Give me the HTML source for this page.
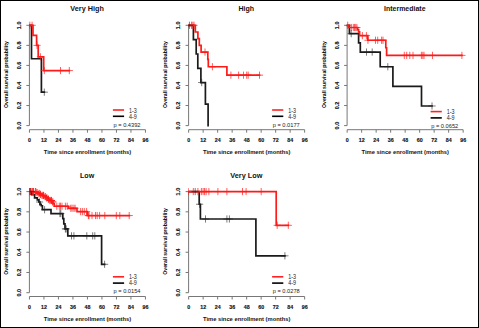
<!DOCTYPE html><html><head><meta charset="utf-8"><style>html,body{margin:0;padding:0;background:#fff;}svg{display:block;}</style></head><body>
<svg width="479" height="328" viewBox="0 0 479 328">
<rect x="0" y="0" width="479" height="328" fill="#fff"/>
<g transform="translate(0,0)">
<text x="87.1" y="10.8" font-family="Liberation Sans, sans-serif" font-weight="bold" font-size="7.1" text-anchor="middle" fill="#111" textLength="33.5" lengthAdjust="spacingAndGlyphs">Very High</text>
<path d="M29.4,25.3 V125.6" stroke="#777" stroke-width="1" fill="none"/>
<path d="M29.4,25.30 h-3 M29.4,45.36 h-3 M29.4,65.42 h-3 M29.4,85.48 h-3 M29.4,105.54 h-3 M29.4,125.60 h-3" stroke="#777" stroke-width="1" fill="none"/>
<text transform="translate(21.2,25.30) rotate(-90)" x="0" y="0" font-family="Liberation Sans, sans-serif" font-weight="bold" font-size="5.5" text-anchor="middle" fill="#111" stroke="#111" stroke-width="0.12">1.0</text>
<text transform="translate(21.2,45.36) rotate(-90)" x="0" y="0" font-family="Liberation Sans, sans-serif" font-weight="bold" font-size="5.5" text-anchor="middle" fill="#111" stroke="#111" stroke-width="0.12">0.8</text>
<text transform="translate(21.2,65.42) rotate(-90)" x="0" y="0" font-family="Liberation Sans, sans-serif" font-weight="bold" font-size="5.5" text-anchor="middle" fill="#111" stroke="#111" stroke-width="0.12">0.6</text>
<text transform="translate(21.2,85.48) rotate(-90)" x="0" y="0" font-family="Liberation Sans, sans-serif" font-weight="bold" font-size="5.5" text-anchor="middle" fill="#111" stroke="#111" stroke-width="0.12">0.4</text>
<text transform="translate(21.2,105.54) rotate(-90)" x="0" y="0" font-family="Liberation Sans, sans-serif" font-weight="bold" font-size="5.5" text-anchor="middle" fill="#111" stroke="#111" stroke-width="0.12">0.2</text>
<text transform="translate(21.2,125.60) rotate(-90)" x="0" y="0" font-family="Liberation Sans, sans-serif" font-weight="bold" font-size="5.5" text-anchor="middle" fill="#111" stroke="#111" stroke-width="0.12">0.0</text>
<text transform="translate(7.9,74.6) rotate(-90)" x="0" y="0" font-family="Liberation Sans, sans-serif" font-weight="bold" font-size="6.0" text-anchor="middle" fill="#000" textLength="66.8" lengthAdjust="spacingAndGlyphs">Overall survival probability</text>
<path d="M29.45,129.7 H145.45" stroke="#777" stroke-width="1" fill="none"/>
<path d="M29.45,129.7 v3 M43.95,129.7 v3 M58.45,129.7 v3 M72.95,129.7 v3 M87.45,129.7 v3 M101.95,129.7 v3 M116.45,129.7 v3 M130.95,129.7 v3 M145.45,129.7 v3" stroke="#777" stroke-width="1" fill="none"/>
<text x="29.45" y="141.8" font-family="Liberation Sans, sans-serif" font-weight="bold" font-size="6.0" text-anchor="middle" fill="#111" stroke="#111" stroke-width="0.15" textLength="2.95" lengthAdjust="spacingAndGlyphs">0</text>
<text x="43.95" y="141.8" font-family="Liberation Sans, sans-serif" font-weight="bold" font-size="6.0" text-anchor="middle" fill="#111" stroke="#111" stroke-width="0.15" textLength="5.90" lengthAdjust="spacingAndGlyphs">12</text>
<text x="58.45" y="141.8" font-family="Liberation Sans, sans-serif" font-weight="bold" font-size="6.0" text-anchor="middle" fill="#111" stroke="#111" stroke-width="0.15" textLength="5.90" lengthAdjust="spacingAndGlyphs">24</text>
<text x="72.95" y="141.8" font-family="Liberation Sans, sans-serif" font-weight="bold" font-size="6.0" text-anchor="middle" fill="#111" stroke="#111" stroke-width="0.15" textLength="5.90" lengthAdjust="spacingAndGlyphs">36</text>
<text x="87.45" y="141.8" font-family="Liberation Sans, sans-serif" font-weight="bold" font-size="6.0" text-anchor="middle" fill="#111" stroke="#111" stroke-width="0.15" textLength="5.90" lengthAdjust="spacingAndGlyphs">48</text>
<text x="101.95" y="141.8" font-family="Liberation Sans, sans-serif" font-weight="bold" font-size="6.0" text-anchor="middle" fill="#111" stroke="#111" stroke-width="0.15" textLength="5.90" lengthAdjust="spacingAndGlyphs">60</text>
<text x="116.45" y="141.8" font-family="Liberation Sans, sans-serif" font-weight="bold" font-size="6.0" text-anchor="middle" fill="#111" stroke="#111" stroke-width="0.15" textLength="5.90" lengthAdjust="spacingAndGlyphs">72</text>
<text x="130.95" y="141.8" font-family="Liberation Sans, sans-serif" font-weight="bold" font-size="6.0" text-anchor="middle" fill="#111" stroke="#111" stroke-width="0.15" textLength="5.90" lengthAdjust="spacingAndGlyphs">84</text>
<text x="145.45" y="141.8" font-family="Liberation Sans, sans-serif" font-weight="bold" font-size="6.0" text-anchor="middle" fill="#111" stroke="#111" stroke-width="0.15" textLength="5.90" lengthAdjust="spacingAndGlyphs">96</text>
<text x="87.5" y="153.8" font-family="Liberation Sans, sans-serif" font-weight="bold" font-size="5.6" text-anchor="middle" fill="#111" textLength="87.4" lengthAdjust="spacingAndGlyphs">Time since enrollment (months)</text>
<path d="M112.9,110 H124.1" stroke="#f22" stroke-width="1.6"/>
<path d="M112.9,116.3 H124.1" stroke="#000" stroke-width="1.6"/>
<text x="129" y="112.5" font-family="Liberation Sans, sans-serif" font-size="6.5" fill="#222" textLength="7.8" lengthAdjust="spacingAndGlyphs">1-3</text>
<text x="129" y="118.7" font-family="Liberation Sans, sans-serif" font-size="6.5" fill="#222" textLength="7.8" lengthAdjust="spacingAndGlyphs">4-9</text>
<text x="113.5" y="126.5" font-family="Liberation Sans, sans-serif" font-size="6.0" fill="#222" textLength="27" lengthAdjust="spacingAndGlyphs">p = 0.4392</text>
</g>
<clipPath id="cp0"><rect x="29.0" y="0" width="200" height="400"/></clipPath><g clip-path="url(#cp0)">
<path d="M29.40,25.30 H31.50 V58.73 H41.40 V92.17 H44.30" stroke="#1a1a1a" stroke-width="1.7" fill="none" stroke-linejoin="miter" stroke-linecap="square"/>
<path d="M29.40,25.30 H33.00 V35.33 H36.60 V45.36 H38.20 V56.82 H43.70 V70.58 H69.30" stroke="#ff1a1a" stroke-width="1.7" fill="none" stroke-linejoin="miter" stroke-linecap="square"/>
<path d="M26.20,25.30h7.20M29.80,21.70v7.20 M28.50,25.30h7.20M32.10,21.70v7.20 M33.40,45.36h7.20M37.00,41.76v7.20 M36.80,56.82h7.20M40.40,53.22v7.20 M40.70,70.58h7.20M44.30,66.98v7.20 M56.90,70.58h7.20M60.50,66.98v7.20 M65.70,70.58h7.20M69.30,66.98v7.20" stroke="#ff1a1a" stroke-width="0.7" fill="none"/>
<path d="M40.70,92.17h7.20M44.30,88.57v7.20" stroke="#222" stroke-width="0.6" fill="none"/>
</g>
<g transform="translate(159.2,0)">
<text x="87.1" y="10.8" font-family="Liberation Sans, sans-serif" font-weight="bold" font-size="7.1" text-anchor="middle" fill="#111" textLength="15.7" lengthAdjust="spacingAndGlyphs">High</text>
<path d="M29.4,25.3 V125.6" stroke="#777" stroke-width="1" fill="none"/>
<path d="M29.4,25.30 h-3 M29.4,45.36 h-3 M29.4,65.42 h-3 M29.4,85.48 h-3 M29.4,105.54 h-3 M29.4,125.60 h-3" stroke="#777" stroke-width="1" fill="none"/>
<text transform="translate(21.2,25.30) rotate(-90)" x="0" y="0" font-family="Liberation Sans, sans-serif" font-weight="bold" font-size="5.5" text-anchor="middle" fill="#111" stroke="#111" stroke-width="0.12">1.0</text>
<text transform="translate(21.2,45.36) rotate(-90)" x="0" y="0" font-family="Liberation Sans, sans-serif" font-weight="bold" font-size="5.5" text-anchor="middle" fill="#111" stroke="#111" stroke-width="0.12">0.8</text>
<text transform="translate(21.2,65.42) rotate(-90)" x="0" y="0" font-family="Liberation Sans, sans-serif" font-weight="bold" font-size="5.5" text-anchor="middle" fill="#111" stroke="#111" stroke-width="0.12">0.6</text>
<text transform="translate(21.2,85.48) rotate(-90)" x="0" y="0" font-family="Liberation Sans, sans-serif" font-weight="bold" font-size="5.5" text-anchor="middle" fill="#111" stroke="#111" stroke-width="0.12">0.4</text>
<text transform="translate(21.2,105.54) rotate(-90)" x="0" y="0" font-family="Liberation Sans, sans-serif" font-weight="bold" font-size="5.5" text-anchor="middle" fill="#111" stroke="#111" stroke-width="0.12">0.2</text>
<text transform="translate(21.2,125.60) rotate(-90)" x="0" y="0" font-family="Liberation Sans, sans-serif" font-weight="bold" font-size="5.5" text-anchor="middle" fill="#111" stroke="#111" stroke-width="0.12">0.0</text>
<text transform="translate(7.9,74.6) rotate(-90)" x="0" y="0" font-family="Liberation Sans, sans-serif" font-weight="bold" font-size="6.0" text-anchor="middle" fill="#000" textLength="66.8" lengthAdjust="spacingAndGlyphs">Overall survival probability</text>
<path d="M29.45,129.7 H145.45" stroke="#777" stroke-width="1" fill="none"/>
<path d="M29.45,129.7 v3 M43.95,129.7 v3 M58.45,129.7 v3 M72.95,129.7 v3 M87.45,129.7 v3 M101.95,129.7 v3 M116.45,129.7 v3 M130.95,129.7 v3 M145.45,129.7 v3" stroke="#777" stroke-width="1" fill="none"/>
<text x="29.45" y="141.8" font-family="Liberation Sans, sans-serif" font-weight="bold" font-size="6.0" text-anchor="middle" fill="#111" stroke="#111" stroke-width="0.15" textLength="2.95" lengthAdjust="spacingAndGlyphs">0</text>
<text x="43.95" y="141.8" font-family="Liberation Sans, sans-serif" font-weight="bold" font-size="6.0" text-anchor="middle" fill="#111" stroke="#111" stroke-width="0.15" textLength="5.90" lengthAdjust="spacingAndGlyphs">12</text>
<text x="58.45" y="141.8" font-family="Liberation Sans, sans-serif" font-weight="bold" font-size="6.0" text-anchor="middle" fill="#111" stroke="#111" stroke-width="0.15" textLength="5.90" lengthAdjust="spacingAndGlyphs">24</text>
<text x="72.95" y="141.8" font-family="Liberation Sans, sans-serif" font-weight="bold" font-size="6.0" text-anchor="middle" fill="#111" stroke="#111" stroke-width="0.15" textLength="5.90" lengthAdjust="spacingAndGlyphs">36</text>
<text x="87.45" y="141.8" font-family="Liberation Sans, sans-serif" font-weight="bold" font-size="6.0" text-anchor="middle" fill="#111" stroke="#111" stroke-width="0.15" textLength="5.90" lengthAdjust="spacingAndGlyphs">48</text>
<text x="101.95" y="141.8" font-family="Liberation Sans, sans-serif" font-weight="bold" font-size="6.0" text-anchor="middle" fill="#111" stroke="#111" stroke-width="0.15" textLength="5.90" lengthAdjust="spacingAndGlyphs">60</text>
<text x="116.45" y="141.8" font-family="Liberation Sans, sans-serif" font-weight="bold" font-size="6.0" text-anchor="middle" fill="#111" stroke="#111" stroke-width="0.15" textLength="5.90" lengthAdjust="spacingAndGlyphs">72</text>
<text x="130.95" y="141.8" font-family="Liberation Sans, sans-serif" font-weight="bold" font-size="6.0" text-anchor="middle" fill="#111" stroke="#111" stroke-width="0.15" textLength="5.90" lengthAdjust="spacingAndGlyphs">84</text>
<text x="145.45" y="141.8" font-family="Liberation Sans, sans-serif" font-weight="bold" font-size="6.0" text-anchor="middle" fill="#111" stroke="#111" stroke-width="0.15" textLength="5.90" lengthAdjust="spacingAndGlyphs">96</text>
<text x="87.5" y="153.8" font-family="Liberation Sans, sans-serif" font-weight="bold" font-size="5.6" text-anchor="middle" fill="#111" textLength="87.4" lengthAdjust="spacingAndGlyphs">Time since enrollment (months)</text>
<path d="M112.9,110 H124.1" stroke="#f22" stroke-width="1.6"/>
<path d="M112.9,116.3 H124.1" stroke="#000" stroke-width="1.6"/>
<text x="129" y="112.5" font-family="Liberation Sans, sans-serif" font-size="6.5" fill="#222" textLength="7.8" lengthAdjust="spacingAndGlyphs">1-3</text>
<text x="129" y="118.7" font-family="Liberation Sans, sans-serif" font-size="6.5" fill="#222" textLength="7.8" lengthAdjust="spacingAndGlyphs">4-9</text>
<text x="113.5" y="126.5" font-family="Liberation Sans, sans-serif" font-size="6.0" fill="#222" textLength="27" lengthAdjust="spacingAndGlyphs">p = 0.0177</text>
</g>
<clipPath id="cp1"><rect x="188.2" y="0" width="200" height="400"/></clipPath><g clip-path="url(#cp1)">
<path d="M188.60,25.30 H193.40 V39.64 H196.20 V53.99 H197.80 V68.33 H200.90 V82.57 H205.40 V104.14 H208.10 V125.60 H208.10" stroke="#1a1a1a" stroke-width="1.7" fill="none" stroke-linejoin="miter" stroke-linecap="square"/>
<path d="M188.60,25.30 H195.30 V31.99 H197.90 V38.67 H199.30 V45.36 H201.10 V52.05 H207.80 V59.40 H208.30 V66.75 H226.90 V75.16 H259.50" stroke="#ff1a1a" stroke-width="1.7" fill="none" stroke-linejoin="miter" stroke-linecap="square"/>
<path d="M187.90,25.30h7.20M191.50,21.70v7.20 M189.20,25.30h7.20M192.80,21.70v7.20 M190.40,25.30h7.20M194.00,21.70v7.20 M201.40,52.05h7.20M205.00,48.45v7.20 M208.80,66.75h7.20M212.40,63.15v7.20 M227.30,75.16h7.20M230.90,71.56v7.20 M235.00,75.16h7.20M238.60,71.56v7.20 M239.90,75.16h7.20M243.50,71.56v7.20 M243.10,75.16h7.20M246.70,71.56v7.20 M244.60,75.16h7.20M248.20,71.56v7.20 M255.90,75.16h7.20M259.50,71.56v7.20" stroke="#ff1a1a" stroke-width="0.7" fill="none"/>
<path d="M185.80,25.30h7.20M189.40,21.70v7.20 M198.10,82.57h7.20M201.70,78.97v7.20" stroke="#222" stroke-width="0.6" fill="none"/>
</g>
<g transform="translate(317.7,0)">
<text x="87.1" y="10.8" font-family="Liberation Sans, sans-serif" font-weight="bold" font-size="7.1" text-anchor="middle" fill="#111" textLength="41.5" lengthAdjust="spacingAndGlyphs">Intermediate</text>
<path d="M29.4,25.3 V125.6" stroke="#777" stroke-width="1" fill="none"/>
<path d="M29.4,25.30 h-3 M29.4,45.36 h-3 M29.4,65.42 h-3 M29.4,85.48 h-3 M29.4,105.54 h-3 M29.4,125.60 h-3" stroke="#777" stroke-width="1" fill="none"/>
<text transform="translate(21.2,25.30) rotate(-90)" x="0" y="0" font-family="Liberation Sans, sans-serif" font-weight="bold" font-size="5.5" text-anchor="middle" fill="#111" stroke="#111" stroke-width="0.12">1.0</text>
<text transform="translate(21.2,45.36) rotate(-90)" x="0" y="0" font-family="Liberation Sans, sans-serif" font-weight="bold" font-size="5.5" text-anchor="middle" fill="#111" stroke="#111" stroke-width="0.12">0.8</text>
<text transform="translate(21.2,65.42) rotate(-90)" x="0" y="0" font-family="Liberation Sans, sans-serif" font-weight="bold" font-size="5.5" text-anchor="middle" fill="#111" stroke="#111" stroke-width="0.12">0.6</text>
<text transform="translate(21.2,85.48) rotate(-90)" x="0" y="0" font-family="Liberation Sans, sans-serif" font-weight="bold" font-size="5.5" text-anchor="middle" fill="#111" stroke="#111" stroke-width="0.12">0.4</text>
<text transform="translate(21.2,105.54) rotate(-90)" x="0" y="0" font-family="Liberation Sans, sans-serif" font-weight="bold" font-size="5.5" text-anchor="middle" fill="#111" stroke="#111" stroke-width="0.12">0.2</text>
<text transform="translate(21.2,125.60) rotate(-90)" x="0" y="0" font-family="Liberation Sans, sans-serif" font-weight="bold" font-size="5.5" text-anchor="middle" fill="#111" stroke="#111" stroke-width="0.12">0.0</text>
<text transform="translate(7.9,74.6) rotate(-90)" x="0" y="0" font-family="Liberation Sans, sans-serif" font-weight="bold" font-size="6.0" text-anchor="middle" fill="#000" textLength="66.8" lengthAdjust="spacingAndGlyphs">Overall survival probability</text>
<path d="M29.45,129.7 H145.45" stroke="#777" stroke-width="1" fill="none"/>
<path d="M29.45,129.7 v3 M43.95,129.7 v3 M58.45,129.7 v3 M72.95,129.7 v3 M87.45,129.7 v3 M101.95,129.7 v3 M116.45,129.7 v3 M130.95,129.7 v3 M145.45,129.7 v3" stroke="#777" stroke-width="1" fill="none"/>
<text x="29.45" y="141.8" font-family="Liberation Sans, sans-serif" font-weight="bold" font-size="6.0" text-anchor="middle" fill="#111" stroke="#111" stroke-width="0.15" textLength="2.95" lengthAdjust="spacingAndGlyphs">0</text>
<text x="43.95" y="141.8" font-family="Liberation Sans, sans-serif" font-weight="bold" font-size="6.0" text-anchor="middle" fill="#111" stroke="#111" stroke-width="0.15" textLength="5.90" lengthAdjust="spacingAndGlyphs">12</text>
<text x="58.45" y="141.8" font-family="Liberation Sans, sans-serif" font-weight="bold" font-size="6.0" text-anchor="middle" fill="#111" stroke="#111" stroke-width="0.15" textLength="5.90" lengthAdjust="spacingAndGlyphs">24</text>
<text x="72.95" y="141.8" font-family="Liberation Sans, sans-serif" font-weight="bold" font-size="6.0" text-anchor="middle" fill="#111" stroke="#111" stroke-width="0.15" textLength="5.90" lengthAdjust="spacingAndGlyphs">36</text>
<text x="87.45" y="141.8" font-family="Liberation Sans, sans-serif" font-weight="bold" font-size="6.0" text-anchor="middle" fill="#111" stroke="#111" stroke-width="0.15" textLength="5.90" lengthAdjust="spacingAndGlyphs">48</text>
<text x="101.95" y="141.8" font-family="Liberation Sans, sans-serif" font-weight="bold" font-size="6.0" text-anchor="middle" fill="#111" stroke="#111" stroke-width="0.15" textLength="5.90" lengthAdjust="spacingAndGlyphs">60</text>
<text x="116.45" y="141.8" font-family="Liberation Sans, sans-serif" font-weight="bold" font-size="6.0" text-anchor="middle" fill="#111" stroke="#111" stroke-width="0.15" textLength="5.90" lengthAdjust="spacingAndGlyphs">72</text>
<text x="130.95" y="141.8" font-family="Liberation Sans, sans-serif" font-weight="bold" font-size="6.0" text-anchor="middle" fill="#111" stroke="#111" stroke-width="0.15" textLength="5.90" lengthAdjust="spacingAndGlyphs">84</text>
<text x="145.45" y="141.8" font-family="Liberation Sans, sans-serif" font-weight="bold" font-size="6.0" text-anchor="middle" fill="#111" stroke="#111" stroke-width="0.15" textLength="5.90" lengthAdjust="spacingAndGlyphs">96</text>
<text x="87.5" y="153.8" font-family="Liberation Sans, sans-serif" font-weight="bold" font-size="5.6" text-anchor="middle" fill="#111" textLength="87.4" lengthAdjust="spacingAndGlyphs">Time since enrollment (months)</text>
<path d="M112.9,111.6 H124.1" stroke="#f22" stroke-width="1.6"/>
<path d="M112.9,117.89999999999999 H124.1" stroke="#000" stroke-width="1.6"/>
<text x="129" y="114.1" font-family="Liberation Sans, sans-serif" font-size="6.5" fill="#222" textLength="7.8" lengthAdjust="spacingAndGlyphs">1-3</text>
<text x="129" y="120.3" font-family="Liberation Sans, sans-serif" font-size="6.5" fill="#222" textLength="7.8" lengthAdjust="spacingAndGlyphs">4-9</text>
<text x="113.5" y="128.1" font-family="Liberation Sans, sans-serif" font-size="6.0" fill="#222" textLength="27" lengthAdjust="spacingAndGlyphs">p = 0.0652</text>
</g>
<clipPath id="cp2"><rect x="346.7" y="0" width="200" height="400"/></clipPath><g clip-path="url(#cp2)">
<path d="M346.90,25.30 H349.40 V33.65 H358.60 V42.85 H360.30 V52.05 H380.20 V66.75 H392.90 V86.37 H421.50 V105.98 H432.00" stroke="#1a1a1a" stroke-width="1.7" fill="none" stroke-linejoin="miter" stroke-linecap="square"/>
<path d="M346.90,25.30 H348.80 V27.51 H357.60 V29.71 H358.60 V31.92 H359.60 V35.63 H367.80 V40.24 H385.80 V47.77 H386.60 V55.39 H461.90" stroke="#ff1a1a" stroke-width="1.7" fill="none" stroke-linejoin="miter" stroke-linecap="square"/>
<path d="M344.10,25.30h7.20M347.70,21.70v7.20 M347.70,27.51h7.20M351.30,23.91v7.20 M349.70,27.51h7.20M353.30,23.91v7.20 M350.90,27.51h7.20M354.50,23.91v7.20 M352.10,27.51h7.20M355.70,23.91v7.20 M353.30,27.51h7.20M356.90,23.91v7.20 M358.80,35.63h7.20M362.40,32.03v7.20 M362.80,35.63h7.20M366.40,32.03v7.20 M364.35,40.24h7.20M367.95,36.64v7.20 M371.90,40.24h7.20M375.50,36.64v7.20 M374.10,40.24h7.20M377.70,36.64v7.20 M378.00,40.24h7.20M381.60,36.64v7.20 M379.40,40.24h7.20M383.00,36.64v7.20 M400.70,55.39h7.20M404.30,51.79v7.20 M403.10,55.39h7.20M406.70,51.79v7.20 M406.20,55.39h7.20M409.80,51.79v7.20 M409.40,55.39h7.20M413.00,51.79v7.20 M417.80,55.39h7.20M421.40,51.79v7.20 M419.20,55.39h7.20M422.80,51.79v7.20 M420.40,55.39h7.20M424.00,51.79v7.20 M428.90,55.39h7.20M432.50,51.79v7.20 M458.30,55.39h7.20M461.90,51.79v7.20" stroke="#ff1a1a" stroke-width="0.7" fill="none"/>
<path d="M347.60,33.65h7.20M351.20,30.05v7.20 M362.90,52.05h7.20M366.50,48.45v7.20 M368.60,52.05h7.20M372.20,48.45v7.20 M384.20,66.75h7.20M387.80,63.15v7.20 M428.40,105.98h7.20M432.00,102.38v7.20" stroke="#222" stroke-width="0.6" fill="none"/>
</g>
<g transform="translate(0,166.8)">
<text x="87.1" y="10.8" font-family="Liberation Sans, sans-serif" font-weight="bold" font-size="7.1" text-anchor="middle" fill="#111" textLength="14.2" lengthAdjust="spacingAndGlyphs">Low</text>
<path d="M29.4,24.8 V125.9" stroke="#777" stroke-width="1" fill="none"/>
<path d="M29.4,24.80 h-3 M29.4,45.02 h-3 M29.4,65.24 h-3 M29.4,85.46 h-3 M29.4,105.68 h-3 M29.4,125.90 h-3" stroke="#777" stroke-width="1" fill="none"/>
<text transform="translate(21.2,24.80) rotate(-90)" x="0" y="0" font-family="Liberation Sans, sans-serif" font-weight="bold" font-size="5.5" text-anchor="middle" fill="#111" stroke="#111" stroke-width="0.12">1.0</text>
<text transform="translate(21.2,45.02) rotate(-90)" x="0" y="0" font-family="Liberation Sans, sans-serif" font-weight="bold" font-size="5.5" text-anchor="middle" fill="#111" stroke="#111" stroke-width="0.12">0.8</text>
<text transform="translate(21.2,65.24) rotate(-90)" x="0" y="0" font-family="Liberation Sans, sans-serif" font-weight="bold" font-size="5.5" text-anchor="middle" fill="#111" stroke="#111" stroke-width="0.12">0.6</text>
<text transform="translate(21.2,85.46) rotate(-90)" x="0" y="0" font-family="Liberation Sans, sans-serif" font-weight="bold" font-size="5.5" text-anchor="middle" fill="#111" stroke="#111" stroke-width="0.12">0.4</text>
<text transform="translate(21.2,105.68) rotate(-90)" x="0" y="0" font-family="Liberation Sans, sans-serif" font-weight="bold" font-size="5.5" text-anchor="middle" fill="#111" stroke="#111" stroke-width="0.12">0.2</text>
<text transform="translate(21.2,125.90) rotate(-90)" x="0" y="0" font-family="Liberation Sans, sans-serif" font-weight="bold" font-size="5.5" text-anchor="middle" fill="#111" stroke="#111" stroke-width="0.12">0.0</text>
<text transform="translate(7.9,74.6) rotate(-90)" x="0" y="0" font-family="Liberation Sans, sans-serif" font-weight="bold" font-size="6.0" text-anchor="middle" fill="#000" textLength="66.8" lengthAdjust="spacingAndGlyphs">Overall survival probability</text>
<path d="M29.45,129.7 H145.45" stroke="#777" stroke-width="1" fill="none"/>
<path d="M29.45,129.7 v3 M43.95,129.7 v3 M58.45,129.7 v3 M72.95,129.7 v3 M87.45,129.7 v3 M101.95,129.7 v3 M116.45,129.7 v3 M130.95,129.7 v3 M145.45,129.7 v3" stroke="#777" stroke-width="1" fill="none"/>
<text x="29.45" y="141.8" font-family="Liberation Sans, sans-serif" font-weight="bold" font-size="6.0" text-anchor="middle" fill="#111" stroke="#111" stroke-width="0.15" textLength="2.95" lengthAdjust="spacingAndGlyphs">0</text>
<text x="43.95" y="141.8" font-family="Liberation Sans, sans-serif" font-weight="bold" font-size="6.0" text-anchor="middle" fill="#111" stroke="#111" stroke-width="0.15" textLength="5.90" lengthAdjust="spacingAndGlyphs">12</text>
<text x="58.45" y="141.8" font-family="Liberation Sans, sans-serif" font-weight="bold" font-size="6.0" text-anchor="middle" fill="#111" stroke="#111" stroke-width="0.15" textLength="5.90" lengthAdjust="spacingAndGlyphs">24</text>
<text x="72.95" y="141.8" font-family="Liberation Sans, sans-serif" font-weight="bold" font-size="6.0" text-anchor="middle" fill="#111" stroke="#111" stroke-width="0.15" textLength="5.90" lengthAdjust="spacingAndGlyphs">36</text>
<text x="87.45" y="141.8" font-family="Liberation Sans, sans-serif" font-weight="bold" font-size="6.0" text-anchor="middle" fill="#111" stroke="#111" stroke-width="0.15" textLength="5.90" lengthAdjust="spacingAndGlyphs">48</text>
<text x="101.95" y="141.8" font-family="Liberation Sans, sans-serif" font-weight="bold" font-size="6.0" text-anchor="middle" fill="#111" stroke="#111" stroke-width="0.15" textLength="5.90" lengthAdjust="spacingAndGlyphs">60</text>
<text x="116.45" y="141.8" font-family="Liberation Sans, sans-serif" font-weight="bold" font-size="6.0" text-anchor="middle" fill="#111" stroke="#111" stroke-width="0.15" textLength="5.90" lengthAdjust="spacingAndGlyphs">72</text>
<text x="130.95" y="141.8" font-family="Liberation Sans, sans-serif" font-weight="bold" font-size="6.0" text-anchor="middle" fill="#111" stroke="#111" stroke-width="0.15" textLength="5.90" lengthAdjust="spacingAndGlyphs">84</text>
<text x="145.45" y="141.8" font-family="Liberation Sans, sans-serif" font-weight="bold" font-size="6.0" text-anchor="middle" fill="#111" stroke="#111" stroke-width="0.15" textLength="5.90" lengthAdjust="spacingAndGlyphs">96</text>
<text x="87.5" y="153.8" font-family="Liberation Sans, sans-serif" font-weight="bold" font-size="5.6" text-anchor="middle" fill="#111" textLength="87.4" lengthAdjust="spacingAndGlyphs">Time since enrollment (months)</text>
<path d="M112.9,110 H124.1" stroke="#f22" stroke-width="1.6"/>
<path d="M112.9,116.3 H124.1" stroke="#000" stroke-width="1.6"/>
<text x="129" y="112.5" font-family="Liberation Sans, sans-serif" font-size="6.5" fill="#222" textLength="7.8" lengthAdjust="spacingAndGlyphs">1-3</text>
<text x="129" y="118.7" font-family="Liberation Sans, sans-serif" font-size="6.5" fill="#222" textLength="7.8" lengthAdjust="spacingAndGlyphs">4-9</text>
<text x="113.5" y="126.5" font-family="Liberation Sans, sans-serif" font-size="6.0" fill="#222" textLength="27" lengthAdjust="spacingAndGlyphs">p = 0.0154</text>
</g>
<clipPath id="cp3"><rect x="29.0" y="0" width="200" height="400"/></clipPath><g clip-path="url(#cp3)">
<path d="M29.40,191.60 H31.80 V194.63 H34.60 V197.87 H37.30 V199.79 H38.80 V202.01 H40.00 V204.44 H41.20 V205.75 H42.40 V209.70 H51.00 V213.54 H62.80 V218.69 H63.80 V223.85 H65.00 V228.91 H67.80 V235.88 H101.60 V264.29 H104.60" stroke="#1a1a1a" stroke-width="1.7" fill="none" stroke-linejoin="miter" stroke-linecap="square"/>
<path d="M29.40,191.60 H36.00 V192.61 H38.00 V193.42 H40.00 V194.33 H42.00 V195.44 H44.00 V196.66 H46.00 V197.87 H48.00 V199.18 H50.00 V200.50 H51.50 V201.91 H53.00 V203.53 H54.30 V206.26 H68.40 V208.28 H77.00 V211.62 H87.30 V215.56 H129.30" stroke="#ff1a1a" stroke-width="1.7" fill="none" stroke-linejoin="miter" stroke-linecap="square"/>
<path d="M25.90,191.60h7.20M29.50,188.00v7.20 M26.80,191.60h7.20M30.40,188.00v7.20 M28.70,191.60h7.20M32.30,188.00v7.20 M30.00,191.60h7.20M33.60,188.00v7.20 M32.10,191.60h7.20M35.70,188.00v7.20 M33.40,192.61h7.20M37.00,189.01v7.20 M35.50,193.42h7.20M39.10,189.82v7.20 M36.80,194.33h7.20M40.40,190.73v7.20 M38.50,195.44h7.20M42.10,191.84v7.20 M40.00,195.44h7.20M43.60,191.84v7.20 M41.60,196.66h7.20M45.20,193.06v7.20 M43.20,197.87h7.20M46.80,194.27v7.20 M44.80,199.18h7.20M48.40,195.58v7.20 M46.40,200.50h7.20M50.00,196.90v7.20 M47.80,200.50h7.20M51.40,196.90v7.20 M49.20,201.91h7.20M52.80,198.31v7.20" stroke="#ff1a1a" stroke-width="1.0" fill="none"/>
<path d="M53.20,206.26h7.20M56.80,202.66v7.20 M55.70,206.26h7.20M59.30,202.66v7.20 M56.90,206.26h7.20M60.50,202.66v7.20 M58.40,206.26h7.20M62.00,202.66v7.20 M61.80,206.26h7.20M65.40,202.66v7.20 M63.60,206.26h7.20M67.20,202.66v7.20 M67.20,208.28h7.20M70.80,204.68v7.20 M68.50,208.28h7.20M72.10,204.68v7.20 M70.30,208.28h7.20M73.90,204.68v7.20 M71.50,208.28h7.20M75.10,204.68v7.20 M77.00,211.62h7.20M80.60,208.02v7.20 M78.80,211.62h7.20M82.40,208.02v7.20 M80.70,211.62h7.20M84.30,208.02v7.20 M83.00,211.62h7.20M86.60,208.02v7.20 M84.80,215.56h7.20M88.40,211.96v7.20 M85.40,215.56h7.20M89.00,211.96v7.20 M88.40,215.56h7.20M92.00,211.96v7.20 M91.90,215.56h7.20M95.50,211.96v7.20 M93.60,215.56h7.20M97.20,211.96v7.20 M96.00,215.56h7.20M99.60,211.96v7.20 M101.20,215.56h7.20M104.80,211.96v7.20 M112.70,215.56h7.20M116.30,211.96v7.20 M116.20,215.56h7.20M119.80,211.96v7.20 M125.60,215.56h7.20M129.20,211.96v7.20" stroke="#ff1a1a" stroke-width="0.7" fill="none"/>
<path d="M27.40,191.60h7.20M31.00,188.00v7.20 M36.00,202.01h7.20M39.60,198.41v7.20 M41.00,209.70h7.20M44.60,206.10v7.20 M56.30,213.54h7.20M59.90,209.94v7.20 M57.20,213.54h7.20M60.80,209.94v7.20 M61.80,228.91h7.20M65.40,225.31v7.20 M62.60,228.91h7.20M66.20,225.31v7.20 M67.90,235.88h7.20M71.50,232.28v7.20 M70.30,235.88h7.20M73.90,232.28v7.20 M83.20,235.88h7.20M86.80,232.28v7.20 M89.10,235.88h7.20M92.70,232.28v7.20 M91.20,235.88h7.20M94.80,232.28v7.20 M101.00,264.29h7.20M104.60,260.69v7.20" stroke="#222" stroke-width="0.6" fill="none"/>
</g>
<g transform="translate(159.2,166.8)">
<text x="87.1" y="10.8" font-family="Liberation Sans, sans-serif" font-weight="bold" font-size="7.1" text-anchor="middle" fill="#111" textLength="32.1" lengthAdjust="spacingAndGlyphs">Very Low</text>
<path d="M29.4,24.8 V125.9" stroke="#777" stroke-width="1" fill="none"/>
<path d="M29.4,24.80 h-3 M29.4,45.02 h-3 M29.4,65.24 h-3 M29.4,85.46 h-3 M29.4,105.68 h-3 M29.4,125.90 h-3" stroke="#777" stroke-width="1" fill="none"/>
<text transform="translate(21.2,24.80) rotate(-90)" x="0" y="0" font-family="Liberation Sans, sans-serif" font-weight="bold" font-size="5.5" text-anchor="middle" fill="#111" stroke="#111" stroke-width="0.12">1.0</text>
<text transform="translate(21.2,45.02) rotate(-90)" x="0" y="0" font-family="Liberation Sans, sans-serif" font-weight="bold" font-size="5.5" text-anchor="middle" fill="#111" stroke="#111" stroke-width="0.12">0.8</text>
<text transform="translate(21.2,65.24) rotate(-90)" x="0" y="0" font-family="Liberation Sans, sans-serif" font-weight="bold" font-size="5.5" text-anchor="middle" fill="#111" stroke="#111" stroke-width="0.12">0.6</text>
<text transform="translate(21.2,85.46) rotate(-90)" x="0" y="0" font-family="Liberation Sans, sans-serif" font-weight="bold" font-size="5.5" text-anchor="middle" fill="#111" stroke="#111" stroke-width="0.12">0.4</text>
<text transform="translate(21.2,105.68) rotate(-90)" x="0" y="0" font-family="Liberation Sans, sans-serif" font-weight="bold" font-size="5.5" text-anchor="middle" fill="#111" stroke="#111" stroke-width="0.12">0.2</text>
<text transform="translate(21.2,125.90) rotate(-90)" x="0" y="0" font-family="Liberation Sans, sans-serif" font-weight="bold" font-size="5.5" text-anchor="middle" fill="#111" stroke="#111" stroke-width="0.12">0.0</text>
<text transform="translate(7.9,74.6) rotate(-90)" x="0" y="0" font-family="Liberation Sans, sans-serif" font-weight="bold" font-size="6.0" text-anchor="middle" fill="#000" textLength="66.8" lengthAdjust="spacingAndGlyphs">Overall survival probability</text>
<path d="M29.45,129.7 H145.45" stroke="#777" stroke-width="1" fill="none"/>
<path d="M29.45,129.7 v3 M43.95,129.7 v3 M58.45,129.7 v3 M72.95,129.7 v3 M87.45,129.7 v3 M101.95,129.7 v3 M116.45,129.7 v3 M130.95,129.7 v3 M145.45,129.7 v3" stroke="#777" stroke-width="1" fill="none"/>
<text x="29.45" y="141.8" font-family="Liberation Sans, sans-serif" font-weight="bold" font-size="6.0" text-anchor="middle" fill="#111" stroke="#111" stroke-width="0.15" textLength="2.95" lengthAdjust="spacingAndGlyphs">0</text>
<text x="43.95" y="141.8" font-family="Liberation Sans, sans-serif" font-weight="bold" font-size="6.0" text-anchor="middle" fill="#111" stroke="#111" stroke-width="0.15" textLength="5.90" lengthAdjust="spacingAndGlyphs">12</text>
<text x="58.45" y="141.8" font-family="Liberation Sans, sans-serif" font-weight="bold" font-size="6.0" text-anchor="middle" fill="#111" stroke="#111" stroke-width="0.15" textLength="5.90" lengthAdjust="spacingAndGlyphs">24</text>
<text x="72.95" y="141.8" font-family="Liberation Sans, sans-serif" font-weight="bold" font-size="6.0" text-anchor="middle" fill="#111" stroke="#111" stroke-width="0.15" textLength="5.90" lengthAdjust="spacingAndGlyphs">36</text>
<text x="87.45" y="141.8" font-family="Liberation Sans, sans-serif" font-weight="bold" font-size="6.0" text-anchor="middle" fill="#111" stroke="#111" stroke-width="0.15" textLength="5.90" lengthAdjust="spacingAndGlyphs">48</text>
<text x="101.95" y="141.8" font-family="Liberation Sans, sans-serif" font-weight="bold" font-size="6.0" text-anchor="middle" fill="#111" stroke="#111" stroke-width="0.15" textLength="5.90" lengthAdjust="spacingAndGlyphs">60</text>
<text x="116.45" y="141.8" font-family="Liberation Sans, sans-serif" font-weight="bold" font-size="6.0" text-anchor="middle" fill="#111" stroke="#111" stroke-width="0.15" textLength="5.90" lengthAdjust="spacingAndGlyphs">72</text>
<text x="130.95" y="141.8" font-family="Liberation Sans, sans-serif" font-weight="bold" font-size="6.0" text-anchor="middle" fill="#111" stroke="#111" stroke-width="0.15" textLength="5.90" lengthAdjust="spacingAndGlyphs">84</text>
<text x="145.45" y="141.8" font-family="Liberation Sans, sans-serif" font-weight="bold" font-size="6.0" text-anchor="middle" fill="#111" stroke="#111" stroke-width="0.15" textLength="5.90" lengthAdjust="spacingAndGlyphs">96</text>
<text x="87.5" y="153.8" font-family="Liberation Sans, sans-serif" font-weight="bold" font-size="5.6" text-anchor="middle" fill="#111" textLength="87.4" lengthAdjust="spacingAndGlyphs">Time since enrollment (months)</text>
<path d="M112.9,110 H124.1" stroke="#f22" stroke-width="1.6"/>
<path d="M112.9,116.3 H124.1" stroke="#000" stroke-width="1.6"/>
<text x="129" y="112.5" font-family="Liberation Sans, sans-serif" font-size="6.5" fill="#222" textLength="7.8" lengthAdjust="spacingAndGlyphs">1-3</text>
<text x="129" y="118.7" font-family="Liberation Sans, sans-serif" font-size="6.5" fill="#222" textLength="7.8" lengthAdjust="spacingAndGlyphs">4-9</text>
<text x="113.5" y="126.5" font-family="Liberation Sans, sans-serif" font-size="6.0" fill="#222" textLength="27" lengthAdjust="spacingAndGlyphs">p = 0.0278</text>
</g>
<clipPath id="cp4"><rect x="188.2" y="0" width="200" height="400"/></clipPath><g clip-path="url(#cp4)">
<path d="M188.40,191.60 H199.20 V204.24 H200.40 V218.98 H255.90 V255.84 H284.90" stroke="#1a1a1a" stroke-width="1.7" fill="none" stroke-linejoin="miter" stroke-linecap="square"/>
<path d="M188.40,191.60 H276.20 V225.30 H288.30" stroke="#ff1a1a" stroke-width="1.7" fill="none" stroke-linejoin="miter" stroke-linecap="square"/>
<path d="M184.80,191.60h7.20M188.40,188.00v7.20 M189.70,191.60h7.20M193.30,188.00v7.20 M194.30,191.60h7.20M197.90,188.00v7.20 M197.80,191.60h7.20M201.40,188.00v7.20 M199.50,191.60h7.20M203.10,188.00v7.20 M200.90,191.60h7.20M204.50,188.00v7.20 M202.50,191.60h7.20M206.10,188.00v7.20 M205.30,191.60h7.20M208.90,188.00v7.20 M214.30,191.60h7.20M217.90,188.00v7.20 M223.30,191.60h7.20M226.90,188.00v7.20 M238.90,191.60h7.20M242.50,188.00v7.20 M242.50,191.60h7.20M246.10,188.00v7.20 M257.60,191.60h7.20M261.20,188.00v7.20 M273.60,225.30h7.20M277.20,221.70v7.20 M284.70,225.30h7.20M288.30,221.70v7.20" stroke="#ff1a1a" stroke-width="0.7" fill="none"/>
<path d="M191.60,191.60h7.20M195.20,188.00v7.20 M196.00,204.24h7.20M199.60,200.64v7.20 M201.90,218.98h7.20M205.50,215.38v7.20 M223.30,218.98h7.20M226.90,215.38v7.20 M225.80,218.98h7.20M229.40,215.38v7.20 M281.30,255.84h7.20M284.90,252.24v7.20" stroke="#222" stroke-width="0.6" fill="none"/>
</g>
<rect x="0.5" y="0.5" width="478" height="327" fill="none" stroke="#000" stroke-width="1"/>
</svg></body></html>
